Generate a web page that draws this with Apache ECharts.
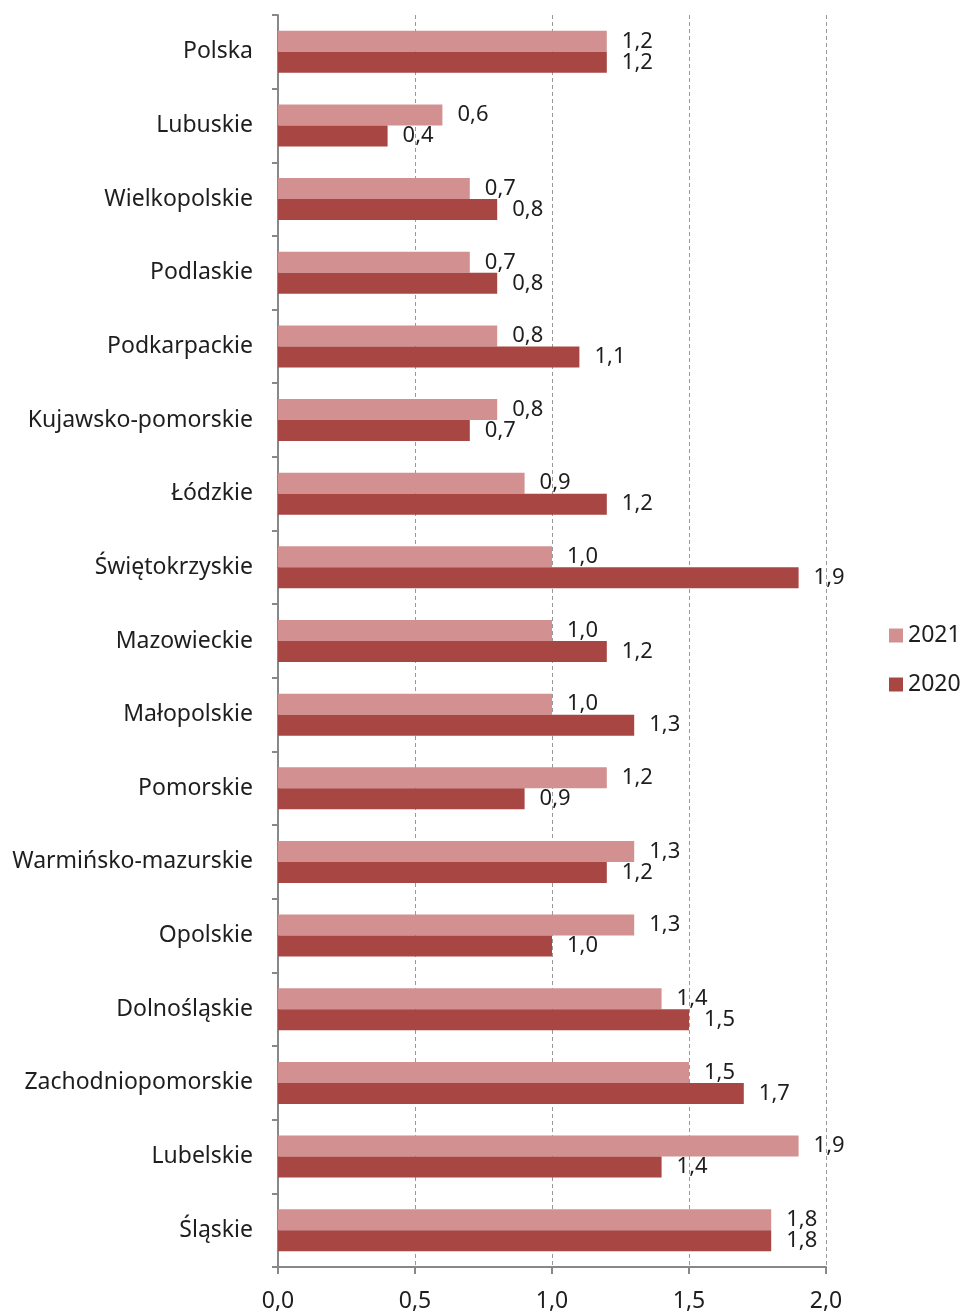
<!DOCTYPE html>
<html><head><meta charset="utf-8">
<script src="https://cdn.jsdelivr.net/npm/echarts@6/dist/echarts.min.js"></script>
<style>html,body{margin:0;padding:0;background:#fff}#c{width:965px;height:1313px}</style>
</head><body><div id="c"></div>
<script>
const categories = ["Polska","Lubuskie","Wielkopolskie","Podlaskie","Podkarpackie","Kujawsko-pomorskie","Łódzkie","Świętokrzyskie","Mazowieckie","Małopolskie","Pomorskie","Warmińsko-mazurskie","Opolskie","Dolnośląskie","Zachodniopomorskie","Lubelskie","Śląskie"];
const values2021 = [1.2,0.6,0.7,0.7,0.8,0.8,0.9,1.0,1.0,1.0,1.2,1.3,1.3,1.4,1.5,1.9,1.8];
const values2020 = [1.2,0.4,0.8,0.8,1.1,0.7,1.2,1.9,1.2,1.3,0.9,1.2,1.0,1.5,1.7,1.4,1.8];
const seriesNames = ["2021","2020"];
const xTicks = [0,0.5,1.0,1.5,2.0];

const fmt = v => Number(v).toFixed(1).replace('.', ',');
const font = '"Noto Sans", sans-serif';
const txt = '#1e1e1e';
const chart = echarts.init(document.getElementById('c'));
const lbl = {show:true, position:'right', distance:15, color:txt, fontSize:22, fontFamily:font,
  padding:[4,0,0,0], formatter: p => fmt(p.value)};
chart.setOption({
  animation:false,
  grid:{left:278, right:139, top:15, bottom:46, containLabel:false},
  legend:{orient:'vertical', left:884, top:619, itemWidth:14, itemHeight:14, itemGap:26,
    icon:'rect', textStyle:{fontSize:23, fontFamily:font, color:txt}, data:seriesNames},
  xAxis:{type:'value', min:xTicks[0], max:xTicks[xTicks.length-1], interval:0.5,
    axisLine:{show:true, lineStyle:{color:'#888', width:2}},
    axisTick:{show:true, length:7, lineStyle:{color:'#888', width:2}},
    axisLabel:{fontSize:23, fontFamily:font, color:txt, margin:23, formatter: v => fmt(v)},
    splitLine:{show:true, lineStyle:{color:'#999', type:[4,3], width:1}}},
  yAxis:{type:'category', inverse:true, data:categories,
    axisLine:{show:true, lineStyle:{color:'#888', width:2}},
    axisTick:{show:true, length:6, lineStyle:{color:'#888', width:2}},
    axisLabel:{fontSize:23, fontFamily:font, color:txt, margin:25, padding:[4,0,0,0]}},
  series:[
    {name:seriesNames[0], type:'bar', data:values2021, barWidth:21, barGap:'0%',
      itemStyle:{color:'#D29190'}, label:lbl},
    {name:seriesNames[1], type:'bar', data:values2020, barWidth:21, barGap:'0%',
      itemStyle:{color:'#A84644'}, label:lbl}
  ]
});
</script></body></html>
